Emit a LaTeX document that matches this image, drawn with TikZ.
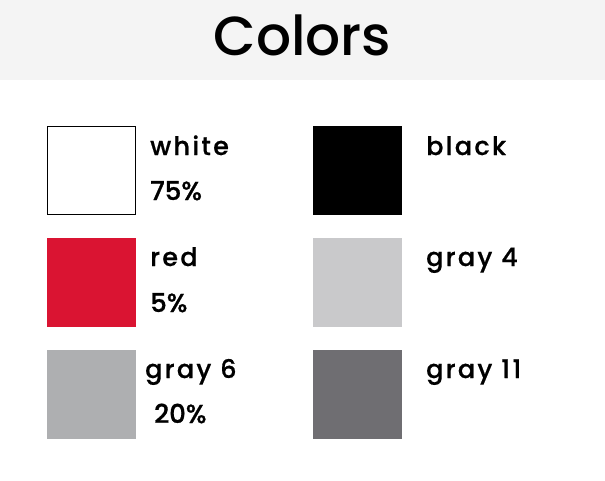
\documentclass[tikz,border=0pt]{standalone}
\usepackage{fontspec}
\setmainfont{Poppins}
\newfontfamily\popm{Poppins Medium}
\newfontfamily\popl{Poppins Medium}[LetterSpace=9,FakeBold=0.6]
\newfontfamily\pops{Poppins Medium}[FakeBold=1]
\definecolor{bandgray}{HTML}{F4F4F4}
\definecolor{cred}{HTML}{DA1432}
\definecolor{cgraya}{HTML}{C9C9CB}
\definecolor{cgrayb}{HTML}{AEAFB1}
\definecolor{cgrayc}{HTML}{6F6E72}
\begin{document}
\begin{tikzpicture}[x=1pt,y=-1pt,
  swatch/.style={minimum width=89pt,minimum height=89pt,inner sep=0pt,outer sep=0pt,anchor=north west,draw=none},
  lbl/.style={anchor=base west,inner sep=0pt,font=\popl\fontsize{25.5}{28}\selectfont},
  pct/.style={anchor=base west,inner sep=0pt,font=\pops\fontsize{26}{28}\selectfont},
  ttl/.style={anchor=base,inner sep=0pt,font=\popm\fontsize{55}{60}\selectfont}]
\useasboundingbox (0,0) rectangle (605,480);
\fill[bandgray] (0,0) rectangle (605,80);
\node[ttl] (title) at (302.5,55) {Colors};
% swatches
\node[swatch,draw=black,line width=1.2pt,minimum width=88pt,minimum height=88pt] (sw1) at (47.5,126.5) {};
\node[swatch,fill=cred] (sw2) at (47,238) {};
\node[swatch,fill=cgrayb] (sw3) at (47,350) {};
\node[swatch,fill=black] (sw4) at (313,126) {};
\node[swatch,fill=cgraya] (sw5) at (313,238) {};
\node[swatch,fill=cgrayc] (sw6) at (313,350) {};
% labels
\node[lbl] (l1) at (150,155) {white};
\node[pct] (p1) at (150,200) {75\%};
\node[lbl] (l2) at (150,266) {red};
\node[pct] (p2) at (150,312) {5\%};
\node[lbl] (l3) at (145,378) {gray 6};
\node[pct] (p3) at (154,423) {20\%};
\node[lbl] (l4) at (426,155) {black};
\node[lbl] (l5) at (426,266) {gray 4};
\node[lbl] (l6) at (426,378) {gray 11};
\end{tikzpicture}
\end{document}
